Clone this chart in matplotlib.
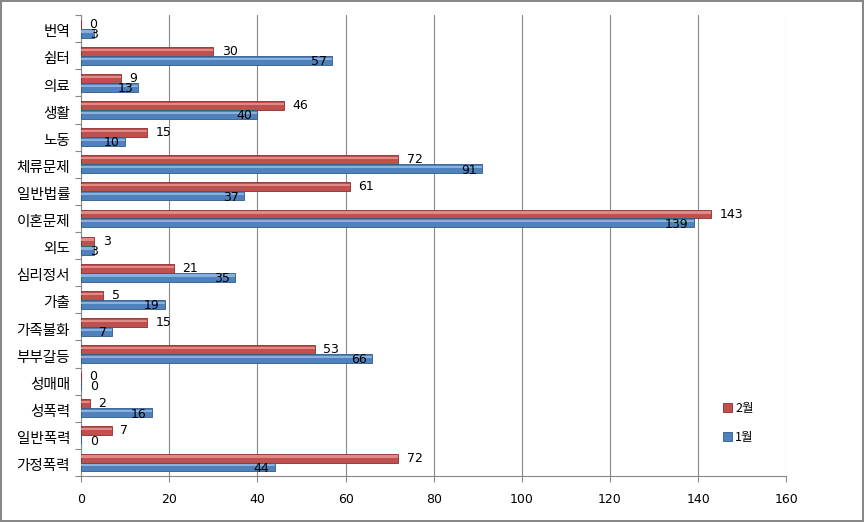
import numpy as np
import matplotlib.pyplot as plt

plt.rcParams['font.family'] = ['Noto Sans CJK KR', 'DejaVu Sans']

categories = ['번역', '쉼터', '의료', '생활', '노동', '체류문제', '일반법률', '이혼문제',
              '외도', '심리정서', '가출', '가족불화', '부부갈등', '성매매', '성폭력',
              '일반폭력', '가정폭력']
feb = [0, 30, 9, 46, 15, 72, 61, 143, 3, 21, 5, 15, 53, 0, 2, 7, 72]
jan = [3, 57, 13, 40, 10, 91, 37, 139, 3, 35, 19, 7, 66, 0, 16, 0, 44]

red = '#C0504D'
blue = '#4F81BD'

fig = plt.figure(figsize=(8.64, 5.22), dpi=100)
fig.patch.set_edgecolor('#888888')
fig.patch.set_linewidth(1.5)
ax = fig.add_axes([0.094, 0.088, 0.816, 0.883])

y = np.arange(len(categories))
h = 0.33
ax.barh(y - h / 2, feb, height=h, color=red, edgecolor='#8B2E2B', linewidth=0.6,
        label='2월', zorder=3)
ax.barh(y + h / 2, jan, height=h, color=blue, edgecolor='#2F5A8A', linewidth=0.6,
        label='1월', zorder=3)
# light highlight on upper half of each bar (rough 3d look)
ax.barh(y - h / 2 - h * 0.18, feb, height=h * 0.25, color='#E08A87', linewidth=0, zorder=4)
ax.barh(y + h / 2 - h * 0.18, jan, height=h * 0.25, color='#8AB0DC', linewidth=0, zorder=4)

for i in range(len(categories)):
    ax.annotate(str(feb[i]), (feb[i], y[i] - h / 2), xytext=(6, 0),
                textcoords='offset points', va='center', ha='left', fontsize=9,
                family='DejaVu Sans', zorder=6)
    ax.annotate(str(jan[i]), (max(jan[i], 5), y[i] + h / 2 + 0.05), xytext=(-4, 0),
                textcoords='offset points', va='center', ha='right', fontsize=9,
                family='DejaVu Sans', zorder=6)

ax.set_xlim(0, 160)
ax.set_xticks(np.arange(0, 161, 20))
ax.set_ylim(len(categories) - 0.5, -0.5)
ax.set_yticks(np.arange(len(categories) + 1) - 0.5, minor=False)
ax.set_yticklabels([])
ax.set_yticks(y + 0.08, minor=True)
ax.set_yticklabels(categories, minor=True, fontsize=10.5)
ax.tick_params(axis='y', which='minor', length=0, pad=8)
ax.tick_params(axis='y', which='major', length=4, color='#888888')
ax.tick_params(axis='x', length=4, color='#888888', labelsize=9, pad=8)
for lab in ax.get_xticklabels():
    lab.set_family('DejaVu Sans')

ax.grid(axis='x', color='#888888', linewidth=0.8, zorder=0)
for s in ['top', 'right']:
    ax.spines[s].set_visible(False)
ax.spines['left'].set_color('#888888')
ax.spines['bottom'].set_color('#888888')

ax.legend(loc='lower right', bbox_to_anchor=(0.97, 0.045), frameon=False,
          handlelength=0.7, handleheight=0.7, labelspacing=1.3, fontsize=9,
          handletextpad=0.3)

fig.savefig('out.png', dpi=100)
